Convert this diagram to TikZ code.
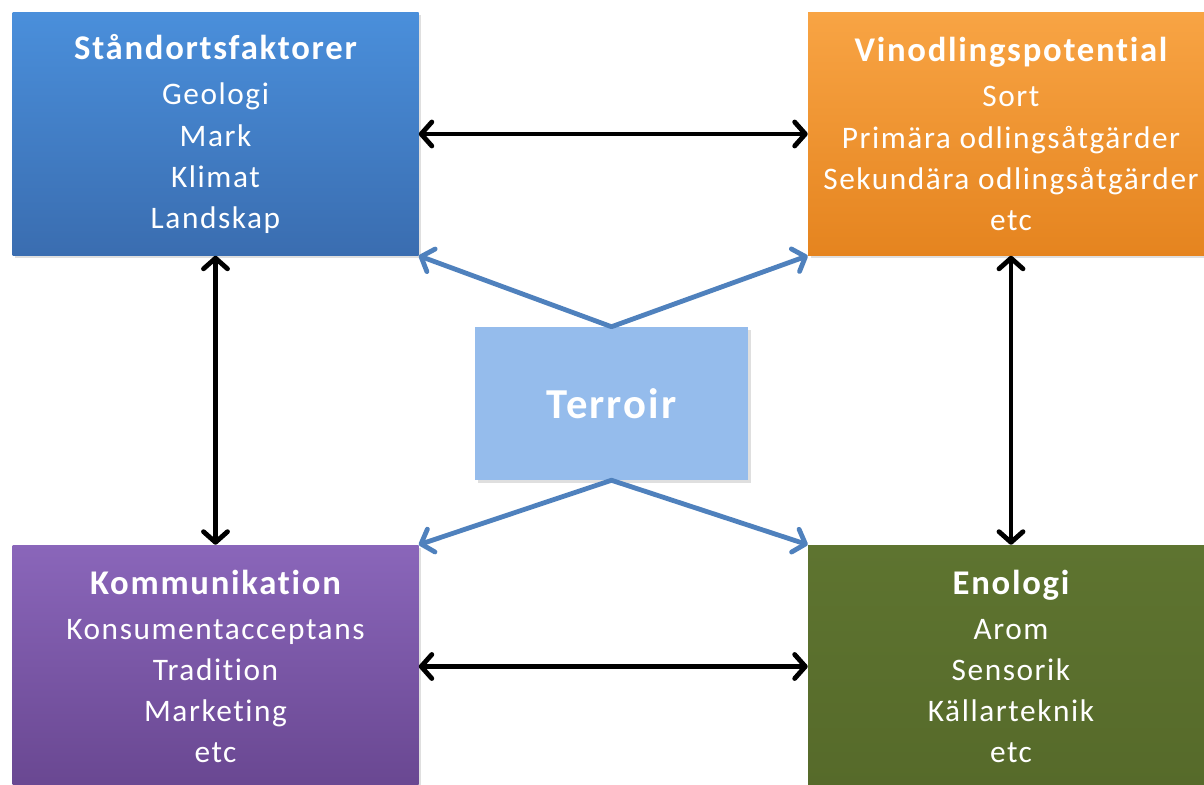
\documentclass[tikz,border=0pt]{standalone}
\usepackage{fontspec}
\setmainfont{Carlito}[LetterSpace=5,Ligatures=NoCommon,RawFeature=-liga]
\usetikzlibrary{arrows.meta,positioning,shadows}
\definecolor{standtop}{HTML}{4A8FDB}
\definecolor{standbot}{HTML}{3A6DB0}
\definecolor{vinotop}{HTML}{F8A444}
\definecolor{vinobot}{HTML}{E5841F}
\definecolor{kommtop}{HTML}{8A66BA}
\definecolor{kommbot}{HTML}{694791}
\definecolor{enotop}{HTML}{5E7430}
\definecolor{enobot}{HTML}{566A2A}
\definecolor{terroirfill}{HTML}{95BCEC}
\definecolor{officeblue}{HTML}{4F81BD}
\newcommand{\boxhead}[1]{{\fontsize{26}{30}\selectfont\bfseries #1}\\[3pt]}

\begin{document}
\begin{tikzpicture}[x=0.75pt,y=-0.75pt]
\tikzstyle{factorbox}=[rectangle,minimum width=304.5pt,minimum height=182.25pt,
  align=center,text=white,inner sep=0pt,
  font=\fontsize{23.5}{30.8}\selectfont,
  drop shadow={shadow xshift=2pt,shadow yshift=-2pt,opacity=0.25}]
\tikzstyle{blackarrow}=[line width=3.6pt,black,{Straight Barb[length=8pt,width=18pt,round]}-{Straight Barb[length=8pt,width=18pt,round]}]
\tikzstyle{bluearrow}=[line width=3.6pt,officeblue,line join=round,{Straight Barb[length=8pt,width=18pt,round]}-{Straight Barb[length=8pt,width=18pt,round]}]
\useasboundingbox (0,0) rectangle (1204,785);
\fill[white] (0,0) rectangle (1204,785);
% the four corner boxes
\node [factorbox,top color=standtop,bottom color=standbot] at (215.5,134) (stand)
  {\boxhead{Ståndortsfaktorer}Geologi\\Mark\\Klimat\\Landskap};
\node [factorbox,top color=vinotop,bottom color=vinobot] at (1011,134) (vino)
  {\boxhead{Vinodlingspotential}Sort\\Primära odlingsåtgärder\\Sekundära odlingsåtgärder\\etc};
\node [factorbox,top color=kommtop,bottom color=kommbot] at (215.5,666.5) (komm)
  {\boxhead{Kommunikation}Konsumentacceptans\\Tradition\\Marketing\\etc};
\node [factorbox,top color=enotop,bottom color=enobot] at (1011,666.5) (eno)
  {\boxhead{Enologi}Arom\\Sensorik\\Källarteknik\\etc};
% centre box
\node [factorbox,fill=terroirfill,minimum width=204.75pt,minimum height=114.75pt,
  font=\fontsize{32}{36}\selectfont\bfseries] at (611.5,403.5) (terroir) {Terroir};
\draw [blackarrow] (stand.east) -- (vino.west);
\draw [blackarrow] (komm.east) -- (eno.west);
\draw [blackarrow] (stand.south) -- (komm.north);
\draw [blackarrow] (vino.south) -- (eno.north);
\draw [bluearrow] (stand.south east) -- (terroir.north) -- (vino.south west);
\draw [bluearrow] (komm.north east) -- (terroir.south) -- (eno.north west);
\end{tikzpicture}
\end{document}
